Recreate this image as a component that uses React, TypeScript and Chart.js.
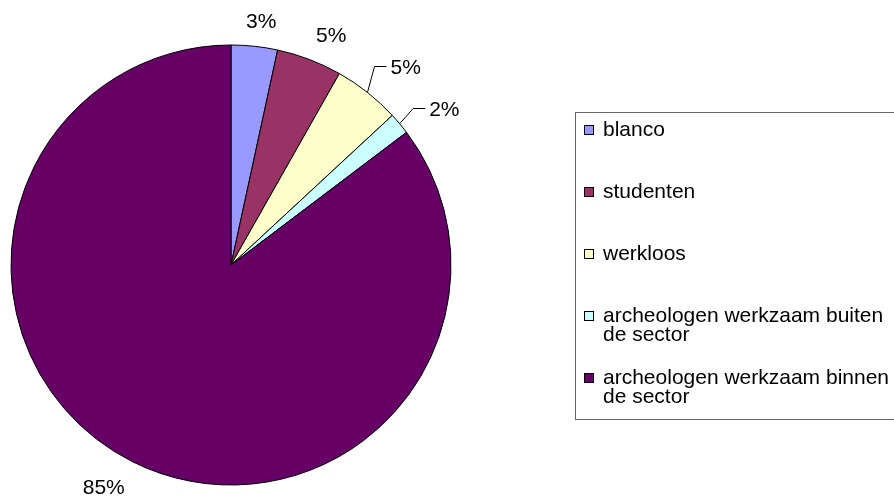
import React, { useEffect, useRef } from "react";
import { Chart, registerables } from "chart.js";

Chart.register(...registerables);

const categories = [
  "blanco",
  "studenten",
  "werkloos",
  "archeologen werkzaam buiten de sector",
  "archeologen werkzaam binnen de sector",
];
const values = [3.4, 4.8, 4.9, 1.6, 85.3];
const colors = ["#9999FF", "#993366", "#FFFFCC", "#CCFFFF", "#660066"];

// label layout per slice (annotation placement, not data)
const labelPad = [18.5, 18.5, 29, 28, 18.5];
const labelShiftDeg = [0, 0, 1.5, 3, 0];
const labelLeader = [false, false, true, true, false];

const FONT = '21px "Liberation Sans", Arial, sans-serif';

const clamp = (v: number, a: number, b: number) => Math.max(a, Math.min(b, v));

const overlayPlugin = {
  id: "overlay",
  afterDraw(chart: any) {
    const ctx = chart.ctx as CanvasRenderingContext2D;
    const meta = chart.getDatasetMeta(0);
    const data: number[] = chart.data.datasets[0].data;
    const total = data.reduce((a, b) => a + b, 0);
    ctx.save();
    ctx.font = FONT;
    ctx.fillStyle = "#000";
    ctx.strokeStyle = "#000";
    ctx.lineWidth = 1;
    meta.data.forEach((arc: any, i: number) => {
      const p = arc.getProps(["x", "y", "startAngle", "endAngle", "outerRadius"], true);
      const mid = (p.startAngle + p.endAngle) / 2;
      const th = mid + (labelShiftDeg[i] * Math.PI) / 180;
      const d = p.outerRadius + labelPad[i];
      const ax = p.x + d * Math.cos(th);
      const ay = p.y + d * Math.sin(th);
      const text = Math.round((data[i] / total) * 100) + "%";
      const w = ctx.measureText(text).width;
      const h = 15;
      const fx = clamp(Math.cos(th) * 3, -1, 1);
      const fy = clamp(Math.sin(th) * 3, -1, 1);
      const cx = ax + (fx * w) / 2;
      const cy = ay + (fy * h) / 2;
      ctx.textAlign = "center";
      ctx.textBaseline = "alphabetic";
      ctx.fillText(text, cx, cy + h / 2);
      if (labelLeader[i]) {
        const ex = p.x + p.outerRadius * Math.cos(mid);
        const ey = p.y + p.outerRadius * Math.sin(mid);
        const left = cx - w / 2;
        ctx.beginPath();
        ctx.moveTo(ex, ey);
        ctx.lineTo(left - 16, Math.round(cy) + 0.5);
        ctx.lineTo(left - 4, Math.round(cy) + 0.5);
        ctx.stroke();
      }
    });

    // legend
    const boxLeft = 575.5;
    const boxTop = 112.5;
    const boxH = 307;
    ctx.strokeStyle = "#666";
    ctx.strokeRect(boxLeft, boxTop, 400, boxH);
    const labels: string[] = chart.data.labels;
    const bg: string[] = chart.data.datasets[0].backgroundColor;
    const textX = 603;
    const maxW = 296;
    ctx.textAlign = "left";
    labels.forEach((lab, i) => {
      const y0 = boxTop + 16 + i * 62;
      // wrap
      const words = lab.split(" ");
      const lines: string[] = [];
      let cur = "";
      words.forEach((wd) => {
        const t = cur ? cur + " " + wd : wd;
        if (ctx.measureText(t).width > maxW && cur) {
          lines.push(cur);
          cur = wd;
        } else cur = t;
      });
      if (cur) lines.push(cur);
      ctx.fillStyle = bg[i];
      ctx.fillRect(584, Math.round(y0 - 4), 10, 10);
      ctx.strokeStyle = "#000";
      ctx.strokeRect(584.5, Math.round(y0 - 4) + 0.5, 9, 9);
      ctx.fillStyle = "#000";
      lines.forEach((ln, k) => {
        ctx.fillText(ln, textX, y0 + 7.5 + k * 19);
      });
    });
    ctx.restore();
  },
};

export default function App() {
  const ref = useRef<HTMLCanvasElement | null>(null);
  useEffect(() => {
    if (!ref.current) return;
    const chart = new Chart(ref.current, {
      type: "pie",
      data: {
        labels: categories,
        datasets: [
          {
            data: values,
            backgroundColor: colors,
            borderColor: "#000",
            borderWidth: 1,
            radius: 220,
          } as any,
        ],
      },
      options: {
        responsive: false,
        animation: false,
        devicePixelRatio: 1,
        layout: { padding: { left: 11, top: 45, right: 443, bottom: 11 } },
        plugins: {
          legend: { display: false },
          tooltip: { enabled: false },
        },
      },
      plugins: [overlayPlugin],
    });
    return () => chart.destroy();
  }, []);
  return (
    <div style={{ position: "absolute", left: 0, top: 0, width: 894, height: 496, background: "#fff" }}>
      <canvas ref={ref} width={894} height={496} style={{ display: "block" }} />
    </div>
  );
}
